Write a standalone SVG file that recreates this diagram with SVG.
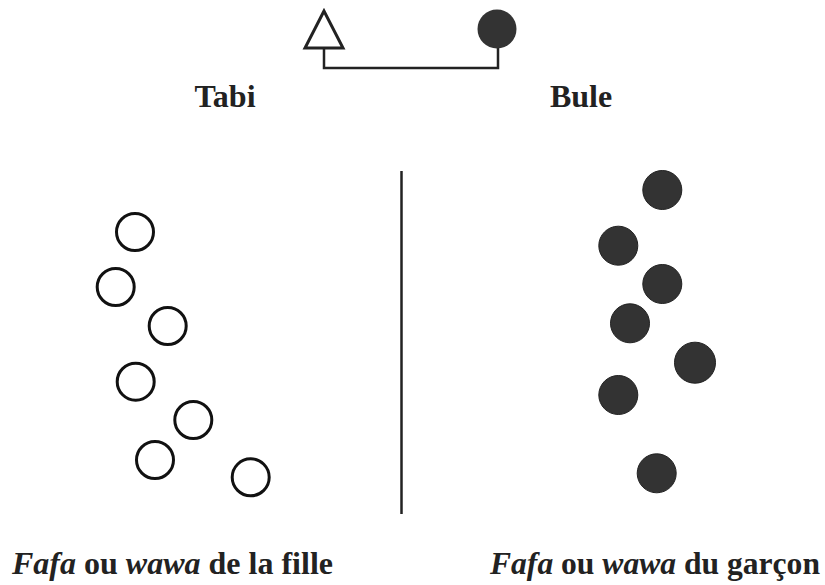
<svg xmlns="http://www.w3.org/2000/svg" width="825" height="585" viewBox="0 0 825 585">
<style>
.open{fill:#fff;stroke:#111;stroke-width:3}
.fill{fill:#333;stroke:#222;stroke-width:1}
.lbl{font-family:"Liberation Serif","Times New Roman",serif;font-weight:bold;fill:#222}
.it{font-style:italic}
.conn{fill:none;stroke:#222;stroke-width:2.5}
</style>
<rect width="825" height="585" fill="#fff"/>
<g id="connectors">
<polyline class="conn" points="324,49 324,68 498,68 498,48"/>
<line class="conn" x1="401.5" y1="171" x2="401.5" y2="514"/>
</g>
<g id="father"><polygon points="324,11 305,48 343,48" fill="#fff" stroke="#222" stroke-width="3"/></g>
<g id="mother"><circle cx="497" cy="29" r="19.5" fill="#333"/></g>
<g id="label-tabi"><text class="lbl" x="225" y="107" font-size="32" text-anchor="middle">Tabi</text></g>
<g id="label-bule"><text class="lbl" x="581" y="107" font-size="32" text-anchor="middle">Bule</text></g>
<g id="girls">
<circle class="open" cx="135" cy="232" r="18.5"/>
<circle class="open" cx="115.7" cy="287" r="18.5"/>
<circle class="open" cx="167.7" cy="326" r="18.5"/>
<circle class="open" cx="135.7" cy="381.7" r="18.5"/>
<circle class="open" cx="193.3" cy="420" r="18.5"/>
<circle class="open" cx="155" cy="460" r="18.5"/>
<circle class="open" cx="250.7" cy="477.3" r="18.5"/>
</g>
<g id="boys">
<circle class="fill" cx="662.3" cy="190" r="19.5"/>
<circle class="fill" cx="618.3" cy="245.7" r="19.5"/>
<circle class="fill" cx="662.3" cy="284" r="19.5"/>
<circle class="fill" cx="630" cy="323.3" r="19.5"/>
<circle class="fill" cx="695" cy="362.7" r="20.5"/>
<circle class="fill" cx="618.3" cy="395" r="19.5"/>
<circle class="fill" cx="656.7" cy="473.3" r="19.5"/>
</g>
<g id="caption-left"><text class="lbl" x="12" y="574" font-size="31" textLength="321" lengthAdjust="spacingAndGlyphs"><tspan class="it">Fafa</tspan> ou <tspan class="it">wawa</tspan> de la fille</text></g>
<g id="caption-right"><text class="lbl" x="490" y="574" font-size="31" textLength="330" lengthAdjust="spacingAndGlyphs"><tspan class="it">Fafa</tspan> ou <tspan class="it">wawa</tspan> du garçon</text></g>
</svg>
